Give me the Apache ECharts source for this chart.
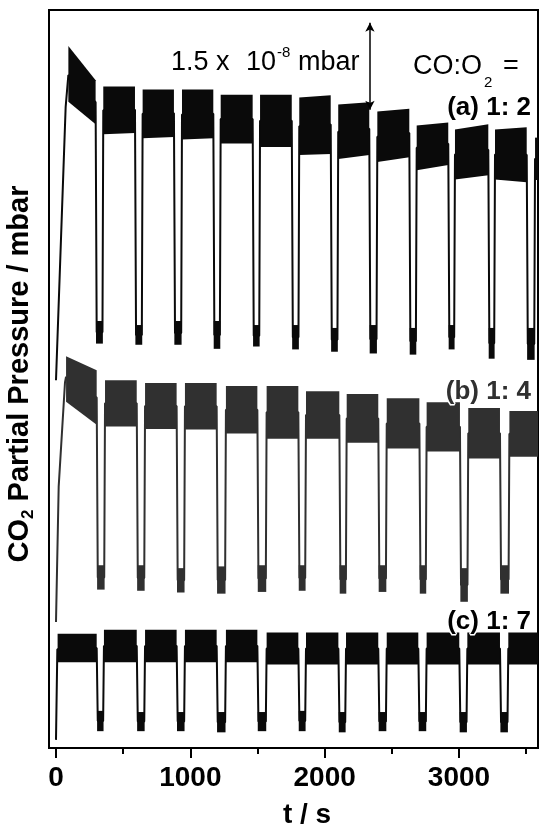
<!DOCTYPE html>
<html>
<head>
<meta charset="utf-8">
<script src="https://cdn.jsdelivr.net/npm/echarts@6/dist/echarts.min.js"></script>
<style>
  html, body { margin: 0; padding: 0; background: #fff; }
  #chart { width: 539px; height: 827px; }
</style>
</head>
<body>
<div id="chart"></div>
<script>
// y unit: 1e-9 mbar (the scale bar is 1.5e-8 mbar = 15 units), x unit: s
const tickValues = [0, 1000, 2000, 3000];
const minorTickValues = [500, 1500, 2500, 3500];

// (a) CO:O2 = 1:2
const aRamp = [[0, 63.4], [72, 110.5], [92, 116]];
const aStart = [92, 352, 645, 938, 1226, 1519, 1811, 2101, 2392, 2685, 2970, 3268, 3566];
const aEnd = [295, 588, 878, 1171, 1464, 1755, 2045, 2332, 2630, 2920, 3218, 3504, 3588];
const aTop0 = [121.0, 114.0, 113.5, 113.5, 112.6, 112.6, 112.1, 110.9, 109.7, 107.3, 106.6, 106.6, 105.2];
const aTop1 = [115.1, 114.0, 113.5, 113.5, 112.6, 112.6, 112.5, 111.3, 110.2, 107.8, 107.5, 107.0, 105.2];
const aBot0 = [111.4, 105.8, 105.1, 104.9, 104.2, 103.6, 102.2, 101.5, 101.0, 99.6, 98.0, 98.0, 97.9];
const aBot1 = [107.5, 106.0, 105.3, 105.1, 104.2, 103.6, 102.4, 102.2, 101.8, 100.5, 98.7, 97.5, 97.9];
const aLowTop = [73.6, 72.9, 73.6, 73.6, 72.9, 72.9, 72.4, 72.9, 72.4, 72.9, 72.4, 72.4];
const aLowBot = [69.7, 69.5, 69.5, 68.8, 69.2, 68.7, 68.3, 68.0, 67.8, 68.7, 67.1, 66.9];

// (b) CO:O2 = 1:4
const bRamp = [[0, 21.7], [20, 45], [67, 63], [75, 64]];
const bStart = [75, 365, 663, 960, 1265, 1568, 1861, 2164, 2462, 2759, 3069, 3375];
const bEnd = [303, 601, 898, 1196, 1499, 1804, 2109, 2399, 2705, 3007, 3305, 3588];
const bTop0 = [67.5, 63.4, 62.9, 62.9, 62.4, 62.4, 61.5, 61.0, 60.3, 59.6, 58.6, 58.1];
const bTop1 = [65.1, 63.4, 62.9, 62.9, 62.4, 62.4, 61.5, 61.0, 60.3, 59.6, 58.6, 58.1];
const bBot0 = [59.7, 55.4, 55.0, 54.9, 54.2, 53.3, 53.3, 52.6, 51.6, 51.1, 49.9, 50.2];
const bBot1 = [55.7, 55.4, 55.0, 54.9, 54.2, 53.3, 53.3, 52.6, 51.6, 51.1, 49.9, 50.2];
const bLowTop = [31.5, 31.5, 31.0, 31.3, 31.5, 31.5, 31.5, 31.5, 31.5, 31.0, 31.5];
const bLowBot = [27.3, 27.1, 26.8, 26.6, 26.9, 27.1, 26.6, 26.9, 26.6, 25.2, 26.6];

// (c) CO:O2 = 1:7
const cRamp = [[0, 1.4], [10, 17]];
const cStart = [12, 357, 663, 960, 1265, 1568, 1861, 2159, 2462, 2759, 3062, 3367];
const cEnd = [303, 601, 898, 1196, 1499, 1804, 2102, 2399, 2697, 3002, 3305, 3588];
const cTop = [19.7, 20.4, 20.4, 20.4, 20.4, 19.9, 19.9, 19.9, 19.9, 19.9, 19.9, 19.9];
const cBot = [14.8, 14.8, 14.8, 14.8, 14.8, 14.4, 14.4, 14.4, 14.4, 14.4, 14.4, 14.4];
const cLowTop = [6.4, 6.2, 6.2, 6.2, 6.2, 6.4, 6.2, 6.2, 6.2, 6.2, 6.2];
const cLowBot = [2.9, 2.9, 2.9, 2.7, 2.9, 2.9, 2.7, 2.9, 2.9, 2.7, 2.7];

// scale bar: 1.5e-8 mbar
const scaleBarT = 2337;
const scaleBarRange = [110, 125];

const FONT = '"Liberation Sans", Arial, Helvetica, sans-serif';

// plateau bands + dip bottoms, [t0, t1, top0, top1, bot0, bot1]
function bands(start, end, top0, top1, bot0, bot1, lowTop, lowBot) {
  const out = [];
  for (let i = 0; i < start.length; i++) {
    out.push([start[i], end[i], top0[i], top1[i], bot0[i], bot1[i]]);
    if (i < lowTop.length) {
      out.push([end[i] + 3, start[i + 1] - 3, lowTop[i], lowTop[i], lowBot[i], lowBot[i]]);
    }
  }
  return out;
}

// the square wave itself (walls of the dips)
function path(ramp, start, end, top0, top1, bot0, bot1, lowTop, lowBot) {
  const pts = ramp.slice();
  for (let i = 0; i < start.length; i++) {
    pts.push([start[i], (top0[i] + bot0[i]) / 2]);
    pts.push([end[i], (top1[i] + bot1[i]) / 2]);
    if (i < lowTop.length) {
      const low = (lowTop[i] + lowBot[i]) / 2;
      pts.push([end[i] + 8, low]);
      pts.push([start[i + 1] - 6, low]);
    }
  }
  return pts;
}

function renderBand(params, api) {
  const t0 = api.value(0), t1 = api.value(1);
  return {
    type: 'polygon',
    shape: {
      points: [
        api.coord([t0, api.value(2)]),
        api.coord([t1, api.value(3)]),
        api.coord([t1, api.value(5)]),
        api.coord([t0, api.value(4)])
      ]
    },
    style: { fill: api.visual('color') }
  };
}

const traces = [
  { color: '#0a0a0a', ramp: aRamp, s: aStart, e: aEnd, t0: aTop0, t1: aTop1, b0: aBot0, b1: aBot1, lt: aLowTop, lb: aLowBot },
  { color: '#303030', ramp: bRamp, s: bStart, e: bEnd, t0: bTop0, t1: bTop1, b0: bBot0, b1: bBot1, lt: bLowTop, lb: bLowBot },
  { color: '#0a0a0a', ramp: cRamp, s: cStart, e: cEnd, t0: cTop, t1: cTop, b0: cBot, b1: cBot, lt: cLowTop, lb: cLowBot }
];

const series = [];
traces.forEach((tr, idx) => {
  series.push({
    type: 'line',
    data: path(tr.ramp, tr.s, tr.e, tr.t0, tr.t1, tr.b0, tr.b1, tr.lt, tr.lb),
    showSymbol: false,
    silent: true,
    lineStyle: { color: tr.color, width: 2 },
    z: 2,
    markLine: idx === 0 ? {
      silent: true,
      symbol: ['arrow', 'arrow'],
      symbolSize: [7, 9],
      label: { show: false },
      lineStyle: { color: '#000', width: 1.5, type: 'solid' },
      data: [[{ coord: [scaleBarT, scaleBarRange[0]] }, { coord: [scaleBarT, scaleBarRange[1]] }]]
    } : undefined
  });
  series.push({
    type: 'custom',
    renderItem: renderBand,
    data: bands(tr.s, tr.e, tr.t0, tr.t1, tr.b0, tr.b1, tr.lt, tr.lb),
    itemStyle: { color: tr.color },
    silent: true,
    clip: true,
    z: 3
  });
});

function plain(txt, x, y, size, extra) {
  return {
    type: 'text', x: x, y: y, z: 10,
    style: Object.assign({
      text: txt, font: size + 'px ' + FONT, fill: '#000',
      verticalAlign: 'middle', textVerticalAlign: 'middle'
    }, extra || {})
  };
}

function ratio(txt, y, color) {
  return plain(txt, 531, y, 26, {
    font: 'bold 26px ' + FONT, fill: color, stroke: '#fff', lineWidth: 3,
    align: 'right', textAlign: 'right'
  });
}

const option = {
  animation: false,
  backgroundColor: '#fff',
  grid: {
    show: true,
    left: 49,
    right: 1,
    top: 10,
    bottom: 79,
    borderColor: '#000',
    borderWidth: 2,
    backgroundColor: 'transparent'
  },
  xAxis: [
    {
      type: 'value',
      min: -52,
      max: 3588,
      axisLine: { show: false },
      splitLine: { show: false },
      axisTick: { show: true, customValues: tickValues, length: 10, lineStyle: { color: '#000', width: 2 } },
      axisLabel: {
        customValues: tickValues,
        formatter: (v) => String(v),
        color: '#000', fontFamily: FONT, fontWeight: 'bold', fontSize: 28, margin: 16
      }
    },
    {
      type: 'value',
      position: 'bottom',
      min: -52,
      max: 3588,
      axisLine: { show: false },
      splitLine: { show: false },
      axisTick: { show: true, customValues: minorTickValues, length: 6, lineStyle: { color: '#000', width: 2 } },
      axisLabel: { show: false }
    }
  ],
  yAxis: {
    type: 'value',
    min: 0,
    max: 127.2,
    show: false
  },
  graphic: [
    plain('1.5 x', 171, 63, 27),
    plain('10', 246, 63, 27),
    plain('-8', 277, 53, 15),
    plain('mbar', 298, 63, 27),
    plain('CO:O', 413, 67, 27),
    plain('2', 484, 83, 15),
    plain('=', 503, 67, 27),
    ratio('(a) 1: 2', 108, '#000'),
    ratio('(b) 1: 4', 392, '#303030'),
    ratio('(c) 1: 7', 622, '#000'),
    plain('t / s', 307, 815, 28, { font: 'bold 28px ' + FONT, align: 'center', textAlign: 'center' }),
    {
      type: 'text', x: 20, y: 374, rotation: Math.PI / 2,
      style: {
        text: '{t|CO}{s|2}{t| Partial Pressure / mbar}',
        align: 'center', textAlign: 'center', verticalAlign: 'middle', textVerticalAlign: 'middle',
        rich: {
          t: { fontFamily: FONT, fontWeight: 'bold', fontSize: 29, lineHeight: 32, fill: '#000', color: '#000' },
          s: { fontFamily: FONT, fontWeight: 'bold', fontSize: 17, lineHeight: 17, padding: [16, 0, 0, 0], verticalAlign: 'top', fill: '#000', color: '#000' }
        }
      }
    }
  ],
  series: series
};

const myChart = echarts.init(document.getElementById('chart'));
myChart.setOption(option);
</script>
</body>
</html>
